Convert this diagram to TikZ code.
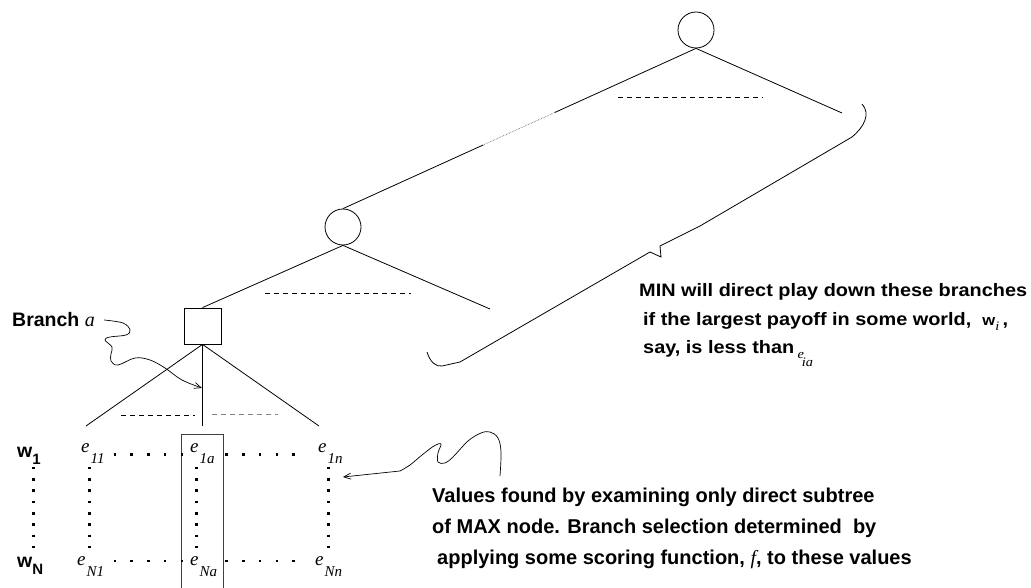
\documentclass[tikz,border=0pt]{standalone}
\usepackage{fontspec}
\setmainfont{Liberation Sans}
\newfontfamily\tms{Liberation Serif}
\usetikzlibrary{arrows.meta,calc}
\newcommand{\ital}[2]{{\tms\itshape\fontsize{#1}{#1}\selectfont #2}}
\newcommand{\entry}[1]{\ital{19}{e}\kern1pt\raisebox{-11.5pt}{\ital{15}{#1}}}
\newcommand{\wsub}[1]{w\raisebox{-7pt}{\fontsize{15}{15}\selectfont #1}}
\newcommand{\wide}[1]{\scalebox{1.105}[1]{#1}}
\begin{document}
\begin{tikzpicture}[x=1pt,y=-1pt,
  ln/.style={line width=0.8pt},
  dsh/.style={line width=0.8pt, dash pattern=on 4.5pt off 4.5pt},
  hdots/.style={line width=2.6pt, dash pattern=on 2.6pt off 14.1pt},
  vdots/.style={line width=2.6pt, dash pattern=on 2.6pt off 8.7pt},
  txt/.style={anchor=base west, inner sep=0pt, font=\fontsize{19.5}{23}\selectfont\bfseries},
  vtxt/.style={anchor=base west, inner sep=0pt, font=\fontsize{20}{24}\selectfont\bfseries},
  mtxt/.style={anchor=base west, inner sep=0pt, font=\fontsize{18}{22}\selectfont\bfseries},
  ent/.style={anchor=base west, inner sep=0pt},
  barb/.style={-{Straight Barb[length=7pt,width=6pt]}, line width=0.7pt},
  circ/.style={circle, draw, line width=0.8pt, minimum size=36pt, inner sep=0pt},
  sq/.style={rectangle, draw, line width=0.8pt, minimum width=37pt, minimum height=36pt, inner sep=0pt},
]
\useasboundingbox (0,0) rectangle (1031,588);

% tree nodes
\node[circ] (root) at (696,30) {};
\node[circ] (mid) at (343,227) {};
\node[sq] (max) at (202.5,326) {};

% root branches
\coordinate (rl1) at ($(root.south)!0.40!(mid.north)$);
\coordinate (rl2) at ($(root.south)!0.603!(mid.north)$);
\draw[ln] (root.south) -- (rl1);
\draw[line width=0.6pt, densely dotted, black!70] (rl1) -- (rl2);
\draw[ln] (rl2) -- (mid.north);
\coordinate (rr) at (842,113);
\draw[ln] (root.south) -- (rr);
\coordinate (rd1) at (618,97); \coordinate (rd2) at (763,97);
\draw[dsh] (rd1) -- (rd2);

% mid branches
\coordinate (mr) at (490,309);
\draw[ln] (mid.south) -- (mr);
\draw[ln] (mid.south) -- (max.north);
\coordinate (md1) at (265,293); \coordinate (md2) at (411,293);
\draw[dsh] (md1) -- (md2);

% max branches
\coordinate (ml) at (86,426);
\coordinate (mc) at (202.5,426);
\coordinate (mrr) at (319,426);
\draw[ln] (max.south) -- (ml);
\draw[ln] (max.south) -- (mc);
\draw[ln] (max.south) -- (mrr);
\coordinate (xd1) at (121,415); \coordinate (xd2) at (195,415);
\coordinate (xd3) at (212,414); \coordinate (xd4) at (278,414);
\draw[dsh] (xd1) -- (xd2);
\draw[dsh, gray] (xd3) -- (xd4);

% column rectangle (open at bottom)
\coordinate (ra) at (181,590); \coordinate (rb) at (181,434);
\coordinate (rc) at (223,434); \coordinate (rd) at (223,590);
\draw[line width=0.8pt, black!75] (ra) -- (rb) -- (rc) -- (rd);

% bracket
\coordinate (br1) at (427,352);
\coordinate (br2) at (862,104);
\draw[ln] (br1) .. controls (430,362) and (436,367) .. (442,366) -- (460,362) -- (650,252) -- (661,257) -- (660,246) -- (700,226) -- (852,137) .. controls (864,127) and (871,114) .. (br2);

% world labels
\node[txt] (w1) at (17,457) {\wsub{1}};
\node[txt] (wN) at (17,567) {\wsub{N}};

% entries
\node[ent] (e11) at (81,452) {\entry{11}};
\node[ent] (e1a) at (190,452) {\entry{1a}};
\node[ent] (e1n) at (318,452) {\entry{1n}};
\node[ent] (eN1) at (77,565) {\entry{N1}};
\node[ent] (eNa) at (190,565) {\entry{Na}};
\node[ent] (eNn) at (315,565) {\entry{Nn}};

% dotted rows
\foreach \y/\n in {454.3/a,561/b}{
  \coordinate (h1\n) at (113.7,\y); \coordinate (h2\n) at (184,\y);
  \coordinate (h3\n) at (225.4,\y); \coordinate (h4\n) at (296,\y);
  \draw[hdots] (h1\n) -- (h2\n);
  \draw[hdots] (h3\n) -- (h4\n);
}
% dotted columns
\foreach \x/\n in {33.3/a,89.3/b,196.7/c,328.3/d}{
  \coordinate (v1\n) at (\x,466.7); \coordinate (v2\n) at (\x,549);
  \draw[vdots] (v1\n) -- (v2\n);
}

% Branch a label and arrow
\node[txt] (blab) at (12,326) {Branch \ital{20}{\mdseries a}};
\coordinate (bs) at (104,320);
\coordinate (bt) at (202,388);
\draw[barb] plot[smooth, tension=0.6] coordinates {(bs) (123,323) (130,330) (126,335) (110,337) (105,340) (112,347) (111,354) (111,361) (118,365) (135,358) (150,360) (165,368) (182,380) (bt)};

% values arrow
\coordinate (vs) at (500,476);
\coordinate (vt) at (343,477);
\coordinate (vm) at (400,471);
\draw[line width=0.7pt] plot[smooth, tension=0.6] coordinates {(vs) (501,452) (498,438) (490,432) (481,433) (468,441) (453,457) (445,463) (438,462) (438,453) (441,444) (434,446) (422,455) (410,465) (vm)};
\draw[barb] (vm) -- (vt);

% MIN text
\node[mtxt] (min1) at (639,296) {\wide{MIN will direct play down these branches}};
\node[mtxt] (min2) at (643,325) {\wide{if the largest payoff in some world,~~{\fontsize{15}{15}\selectfont w}\raisebox{-5pt}{\ital{13}{\mdseries i}}\,,}};
\node[mtxt] (min3) at (643,353) {\wide{say, is less than\,\raisebox{-5pt}{\ital{13}{\mdseries e}}\kern-2pt\raisebox{-13pt}{\ital{13}{\mdseries ia}}}};

% values text
\node[vtxt] (val1) at (432,502) {Values found by examining only direct subtree};
\node[vtxt] (val2) at (432,533) {of MAX node. Branch selection determined~~by};
\node[vtxt] (val3) at (437,564) {applying some scoring function, \ital{20}{\mdseries f}, to these values};
\end{tikzpicture}
\end{document}
